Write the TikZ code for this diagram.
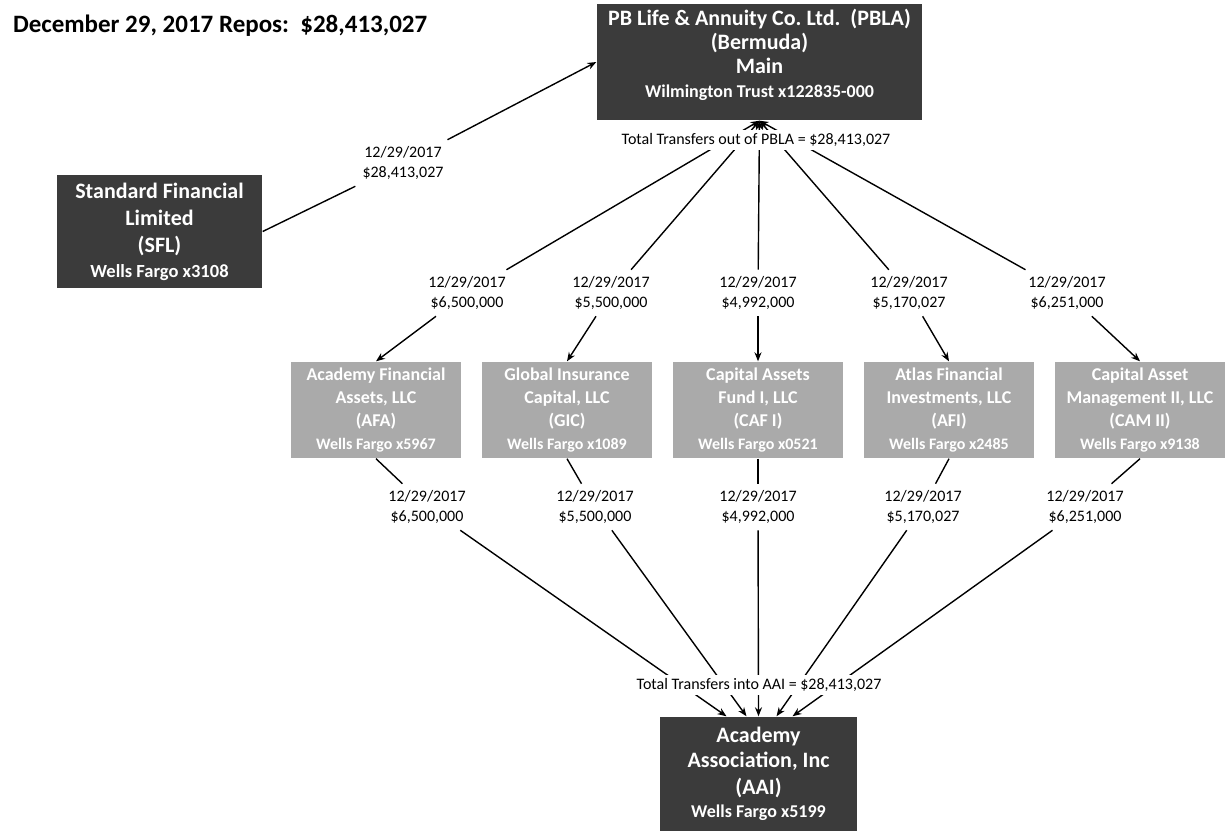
\documentclass[tikz,border=0pt]{standalone}
\usepackage{fontspec}
\setmainfont{Carlito}
\usetikzlibrary{arrows.meta,positioning}
\definecolor{boxdark}{HTML}{3B3B3B}
\definecolor{boxgray}{HTML}{AAAAAA}

\begin{document}
\frenchspacing
\begin{tikzpicture}[x=1pt,y=-1pt,->,>={Stealth[length=9pt,width=7pt]},line width=1.4pt,
                    node distance=191pt,
                    darkbox/.style={fill=boxdark,text=white,align=center,inner sep=0pt,
                                    font=\bfseries\fontsize{22}{27}\selectfont},
                    graybox/.style={fill=boxgray,text=white,align=center,inner sep=0pt,
                                    minimum width=170pt,minimum height=96pt,
                                    font=\bfseries\fontsize{18}{23}\selectfont},
                    amount/.style={align=center,inner xsep=10pt,inner ysep=6pt,
                                   font=\fontsize{16}{20}\selectfont},
                    total/.style={fill=white,inner sep=3pt,font=\fontsize{16}{20}\selectfont}]

 \useasboundingbox (0,0) rectangle (1231,831);

 \node[anchor=west,font=\bfseries\fontsize{25}{30}\selectfont] (title) at (9,26)
   {December 29, 2017 Repos:\ \ \$28,413,027};

 \node[darkbox,minimum width=325pt,minimum height=116pt] (PBLA) at (759.5,62)
   {PB Life \& Annuity Co. Ltd.\ \ (PBLA)\\[-3pt](Bermuda)\\[-3pt]Main\\[-3pt]
    {\fontsize{18}{22}\selectfont Wilmington Trust x122835-000}\\[-10pt]{}};
 \node[darkbox,minimum width=205pt,minimum height=113pt] (SFL) at (159.5,231.5)
   {Standard Financial\\Limited\\(SFL)\\[-2pt]{\fontsize{18.5}{22}\selectfont Wells Fargo x3108}};
 \node[amount] (sfllab) at (403,163) {12/29/2017\\\$28,413,027};

 % first row of dates
 \node[amount] (u1) at (467,293)  {12/29/2017\\\$6,500,000};
 \node[amount] (u2) at (611,293)  {12/29/2017\\\$5,500,000};
 \node[amount] (u3) at (758,293)  {12/29/2017\\\$4,992,000};
 \node[amount] (u4) at (909,293)  {12/29/2017\\\$5,170,027};
 \node[amount] (u5) at (1067,293) {12/29/2017\\\$6,251,000};

 \node[graybox] (g1) at (376,410) {Academy Financial\\Assets, LLC\\(AFA)\\{\fontsize{16}{20}\selectfont Wells Fargo x5967}};
 \node[graybox] (g2) [right of=g1] {Global Insurance\\Capital, LLC\\(GIC)\\{\fontsize{16}{20}\selectfont Wells Fargo x1089}};
 \node[graybox] (g3) [right of=g2] {Capital Assets\\Fund I, LLC\\(CAF I)\\{\fontsize{16}{20}\selectfont Wells Fargo x0521}};
 \node[graybox] (g4) [right of=g3] {Atlas Financial\\Investments, LLC\\(AFI)\\{\fontsize{16}{20}\selectfont Wells Fargo x2485}};
 \node[graybox] (g5) [right of=g4] {Capital Asset\\Management II, LLC\\(CAM II)\\{\fontsize{16}{20}\selectfont Wells Fargo x9138}};

 % second row of dates
 \node[amount] (l1) at (427,507)  {12/29/2017\\\$6,500,000};
 \node[amount] (l2) at (595,507)  {12/29/2017\\\$5,500,000};
 \node[amount] (l3) at (758,507)  {12/29/2017\\\$4,992,000};
 \node[amount] (l4) at (923,507)  {12/29/2017\\\$5,170,027};
 \node[amount] (l5) at (1085,507) {12/29/2017\\\$6,251,000};

 \node[darkbox,minimum width=197pt,minimum height=114pt] (AAI) at (758.5,774)
   {Academy\\[-2pt]Association, Inc\\(AAI)\\[-4pt]{\fontsize{18}{22}\selectfont Wells Fargo x5199}};

 \path (SFL.east) edge[-] (sfllab)
       (sfllab) edge (PBLA.west)

       (u1) edge (PBLA.south)
       (u2) edge (PBLA.south)
       (u3) edge (PBLA.south)
       (u4) edge (PBLA.south)
       (u5) edge (PBLA.south)

       (u1) edge (g1.north)
       (u2) edge (g2.north)
       (u3) edge (g3.north)
       (u4) edge (g4.north)
       (u5) edge (g5.north)

       (g1.south) edge[-] (l1)
       (g2.south) edge[-] (l2)
       (g3.south) edge[-] (l3)
       (g4.south) edge[-] (l4)
       (g5.south) edge[-] (l5)

       (l1) edge ([xshift=-32pt]AAI.north)
       (l2) edge ([xshift=-12pt]AAI.north)
       (l3) edge (AAI.north)
       (l4) edge ([xshift=18pt]AAI.north)
       (l5) edge ([xshift=34pt]AAI.north);

 % totals sit on top of the lines
 \node[total] (outPBLA) at (756,140) {Total Transfers out of PBLA = \$28,413,027};
 \node[total] (intoAAI) at (759,685) {Total Transfers into AAI = \$28,413,027};

\end{tikzpicture}
\end{document}
